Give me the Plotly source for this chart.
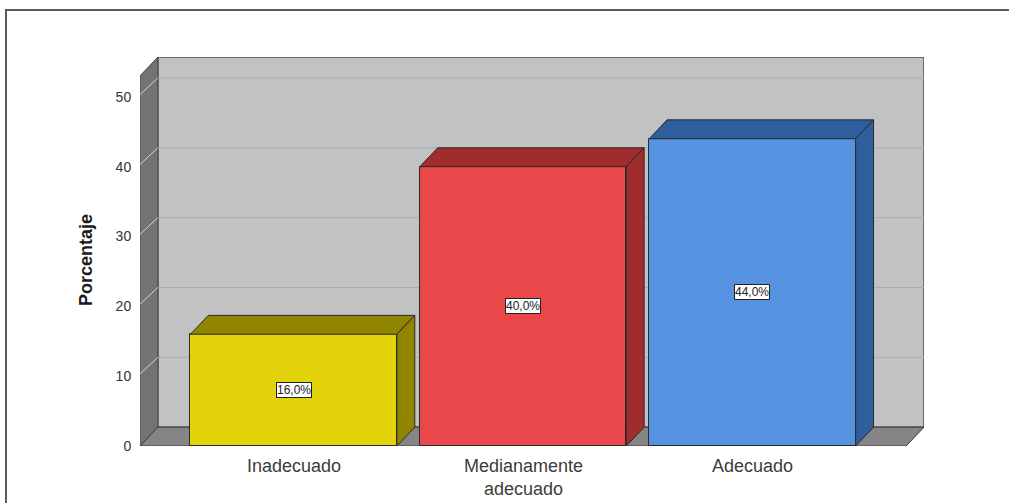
import plotly.graph_objects as go

# ---- data -------------------------------------------------------------
categories = ["Inadecuado", "Medianamente\nadecuado", "Adecuado"]
percentages = [16.0, 40.0, 44.0]
face_colors = ["#E3D30B", "#EA474B", "#5592E0"]
shade_colors = ["#918500", "#A12C2E", "#2F5E9C"]
y_ticks = [0, 10, 20, 30, 40, 50]

# ---- pseudo-3D box geometry (axis units) -------------------------------
BAR_W = 0.9
X_LEFT, X_RIGHT = -0.67, 2.67
DEPTH_X = 0.078
DEPTH_Y = 2.7
Y_TOP = 53.0

FONT = "Liberation Sans, Arial, sans-serif"

W, H = 1009, 503
ML, MR, MT, MB = 140, 85, 57, 57
plot_w = W - ML - MR
plot_h = H - MT - MB


def px_to_paper_x(px):
    return (px - ML) / plot_w


def px_to_paper_y(py):
    return (H - MB - py) / plot_h


def poly(points):
    return "M " + " L ".join(f"{x},{y}" for x, y in points) + " Z"


fig = go.Figure()
xs = list(range(len(categories)))

# front faces of the bars
fig.add_trace(go.Bar(
    x=xs, y=percentages, width=BAR_W,
    marker=dict(color=face_colors, line=dict(color="#2a2a2a", width=1)),
    hoverinfo="skip", showlegend=False,
))

# top and side faces of every bar, offset by the box depth
for x, v, shade in zip(xs, percentages, shade_colors):
    l, r = x - BAR_W / 2, x + BAR_W / 2
    top = [(l, v), (l + DEPTH_X, v + DEPTH_Y), (r + DEPTH_X, v + DEPTH_Y), (r, v), (l, v)]
    side = [(r, 0), (r + DEPTH_X, DEPTH_Y), (r + DEPTH_X, v + DEPTH_Y), (r, v), (r, 0)]
    for face in (top, side):
        fig.add_trace(go.Scatter(
            x=[p[0] for p in face], y=[p[1] for p in face],
            mode="lines", fill="toself", fillcolor=shade,
            line=dict(color="#2a2a2a", width=1),
            hoverinfo="skip", showlegend=False,
        ))

shapes = []
# outer frame
shapes.append(dict(
    type="rect", xref="paper", yref="paper",
    x0=px_to_paper_x(6), x1=px_to_paper_x(1014),
    y0=px_to_paper_y(520), y1=px_to_paper_y(10),
    line=dict(color="#5c5c5c", width=2), fillcolor="rgba(0,0,0,0)", layer="below",
))
# back wall
shapes.append(dict(
    type="path", xref="x", yref="y", layer="below",
    path=poly([(X_LEFT + DEPTH_X, DEPTH_Y), (X_RIGHT + DEPTH_X, DEPTH_Y),
               (X_RIGHT + DEPTH_X, Y_TOP + DEPTH_Y), (X_LEFT + DEPTH_X, Y_TOP + DEPTH_Y)]),
    fillcolor="#C2C2C2", line=dict(color="#4e4e4e", width=1.5),
))
# gridlines on the back wall
for t in y_ticks[1:]:
    shapes.append(dict(
        type="line", xref="x", yref="y", layer="below",
        x0=X_LEFT + DEPTH_X, x1=X_RIGHT + DEPTH_X, y0=t + DEPTH_Y, y1=t + DEPTH_Y,
        line=dict(color="#ababab", width=1),
    ))
# left wall
shapes.append(dict(
    type="path", xref="x", yref="y", layer="below",
    path=poly([(X_LEFT, 0), (X_LEFT + DEPTH_X, DEPTH_Y),
               (X_LEFT + DEPTH_X, Y_TOP + DEPTH_Y), (X_LEFT, Y_TOP)]),
    fillcolor="#737373", line=dict(color="#4a4a4a", width=1),
))
# floor
shapes.append(dict(
    type="path", xref="x", yref="y", layer="below",
    path=poly([(X_LEFT, 0), (X_RIGHT, 0), (X_RIGHT + DEPTH_X, DEPTH_Y), (X_LEFT + DEPTH_X, DEPTH_Y)]),
    fillcolor="#858585", line=dict(color="#3a3a3a", width=1),
))
# diagonal tick guides across the left wall
for t in y_ticks[1:]:
    shapes.append(dict(
        type="line", xref="x", yref="y", layer="below",
        x0=X_LEFT - 0.01, x1=X_LEFT + DEPTH_X, y0=t, y1=t + DEPTH_Y,
        line=dict(color="#d6d6d6", width=1),
    ))

annotations = []
# value labels in the middle of each bar
for x, v in zip(xs, percentages):
    annotations.append(dict(
        x=x, y=v / 2, xref="x", yref="y", showarrow=False,
        text=f"{v:.1f}%".replace(".", ","),
        font=dict(family=FONT, size=12, color="#222222"),
        bgcolor="white", bordercolor="#222222", borderwidth=1, borderpad=0,
    ))
# category labels under the bars
for x, name in zip(xs, categories):
    annotations.append(dict(
        x=x, y=px_to_paper_y(454), xref="x", yref="paper",
        xanchor="center", yanchor="top", showarrow=False,
        text=name.replace("\n", "<br>"),
        font=dict(family=FONT, size=18, color="#3c3c3c"),
    ))
# y-axis title
annotations.append(dict(
    x=px_to_paper_x(86), y=px_to_paper_y(260), xref="paper", yref="paper",
    xanchor="center", yanchor="middle",
    showarrow=False, text="<b>Porcentaje</b>", textangle=-90,
    font=dict(family=FONT, size=18, color="#1a1a1a"),
))

fig.update_layout(
    width=W, height=H,
    margin=dict(l=ML, r=MR, t=MT, b=MB),
    paper_bgcolor="white", plot_bgcolor="rgba(0,0,0,0)",
    shapes=shapes, annotations=annotations,
    showlegend=False, bargap=0,
    xaxis=dict(range=[X_LEFT, X_RIGHT + DEPTH_X], showgrid=False, zeroline=False,
               showline=False, showticklabels=False, fixedrange=True),
    yaxis=dict(range=[0, Y_TOP + DEPTH_Y], tickvals=y_ticks, ticks="outside",
               ticklen=5, tickcolor="rgba(0,0,0,0)", showgrid=False, zeroline=False,
               showline=False, fixedrange=True,
               tickfont=dict(family=FONT, size=14, color="#333333")),
)

fig.write_html("out.html")
